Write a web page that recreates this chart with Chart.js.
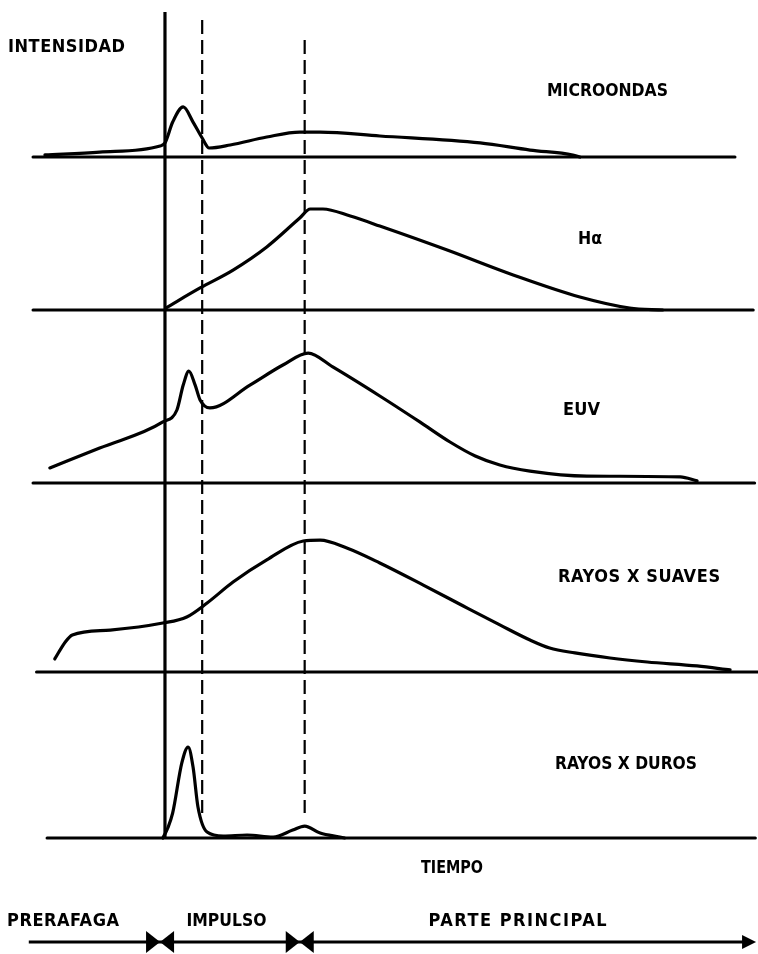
<!DOCTYPE html>
<html>
<head>
<meta charset="utf-8">
<script src="https://cdn.jsdelivr.net/npm/chart.js@4.4.1/dist/chart.umd.min.js"></script>
<style>
html,body{margin:0;padding:0;background:#fff;}
#wrap{position:relative;width:758px;height:954px;}
</style>
</head>
<body>
<div id="wrap"><canvas id="c"></canvas></div>
<script>
// ---- DATA (time in arbitrary units 0-100, intensity relative 0-100 within each panel) ----
const panelNames = ['MICROONDAS', 'Hα', 'EUV', 'RAYOS X SUAVES', 'RAYOS X DUROS'];

const microTime = [1.7, 9.5, 18.1, 18.8, 19.9, 21.4, 22.8, 24.1, 25.1, 28.1, 33.3, 38.0, 40.9, 49.4, 63.7, 70.8, 76.9, 77.9];
const microInt  = [1.4, 3.4, 7.6, 9.7, 24.1, 34.5, 24.1, 13.1, 6.2, 8.3, 13.8, 17.2, 17.2, 14.5, 9.7, 4.8, 1.4, 0];

const haTime = [18.9, 23.8, 28.5, 33.3, 38.0, 39.5, 41.3, 45.2, 49.4, 59.0, 68.4, 77.9, 85.0, 89.7];
const haInt  = [1.3, 14.4, 26.1, 41.2, 60.1, 66.0, 66.0, 61.4, 54.9, 39.2, 22.9, 8.5, 1.3, 0];

const euvTime = [2.4, 9.5, 18.5, 20.5, 21.4, 22.2, 23.1, 23.8, 25.2, 30.9, 35.6, 39.2, 42.7, 49.4, 55.1, 59.4, 63.0, 66.5, 70.8, 78.9, 92.2, 94.6];
const euvInt  = [8.7, 20.2, 35.3, 42.2, 56.6, 64.7, 56.6, 48.0, 43.4, 56.6, 68.2, 75.1, 67.1, 50.3, 35.3, 23.7, 15.6, 10.4, 6.9, 4.0, 3.5, 1.2];

const softTime = [3.1, 4.6, 5.6, 11.0, 18.5, 21.9, 24.8, 28.5, 33.3, 38.5, 40.9, 44.7, 49.4, 55.6, 61.3, 66.5, 70.8, 73.6, 77.2, 82.2, 87.5, 94.6, 99.3];
const softInt  = [6.9, 15.9, 19.6, 22.2, 25.9, 29.1, 36.5, 47.6, 59.3, 69.3, 69.8, 65.6, 57.7, 46.0, 34.9, 24.9, 16.9, 12.7, 10.1, 7.4, 5.3, 3.2, 1.1];

const hardTime = [18.5, 19.2, 19.9, 21.2, 22.1, 22.8, 23.5, 24.8, 27.1, 30.5, 34.2, 37.0, 38.7, 40.9, 43.7, 44.4];
const hardInt  = [0, 6.0, 15.1, 45.2, 54.8, 42.8, 18.7, 3.6, 1.2, 1.8, 0.6, 4.8, 7.2, 3.0, 0.6, 0];

// event markers (time units)
const onsetTime = 18.8;                 // solid vertical line
const dashedTimes = [24.1, 38.7];       // dashed vertical lines
// phases along the time arrow
const phaseLabels = ['PRERAFAGA', 'IMPULSO', 'PARTE PRINCIPAL'];
const phaseBounds = [18.1, 38.0];
const axisTitleY = 'INTENSIDAD';
const axisTitleX = 'TIEMPO';

// ---- build ----
const toPts = (t, v) => t.map((x, i) => ({x: x, y: v[i]}));
const seriesDefs = [
  {id: 'yMicro', t: microTime, v: microInt},
  {id: 'yHa',    t: haTime,    v: haInt},
  {id: 'yEuv',   t: euvTime,   v: euvInt},
  {id: 'ySoft',  t: softTime,  v: softInt},
  {id: 'yHard',  t: hardTime,  v: hardInt}
];

const FONT = "bold 18px 'DejaVu Sans Condensed', 'DejaVu Sans', sans-serif";

const hiddenY = (w) => ({
  type: 'linear', position: 'left', stack: 'panels', stackWeight: w,
  min: 0, max: 100,
  ticks: {display: false},
  grid: {display: false, drawTicks: false},
  border: {display: false}
});

// draw text centred at (cx, cy) spanning width w: spread letters if too narrow, squeeze if too wide
function fitText(ctx, text, cx, cy, w) {
  ctx.save();
  ctx.letterSpacing = '0px';
  ctx.textAlign = 'left';
  const m = ctx.measureText(text).width;
  if (w >= m) {
    const n = [...text].length;
    const ls = (w - m) / Math.max(n - 1, 1);
    ctx.letterSpacing = ls.toFixed(2) + 'px';
    ctx.fillText(text, cx - w / 2, cy);
  } else {
    ctx.translate(cx - w / 2, cy);
    ctx.scale(w / m, 1);
    ctx.fillText(text, 0, 0);
  }
  ctx.restore();
}

const decor = {
  id: 'decor',
  afterDatasetsDraw(chart) {
    const ctx = chart.ctx;
    const xs = chart.scales.x;
    const area = chart.chartArea;
    ctx.save();
    ctx.strokeStyle = '#000';
    ctx.fillStyle = '#000';
    ctx.lineCap = 'round';
    // baselines
    const baseExt = {yMicro: [0, 100], yHa: [0, 102.6], yEuv: [0, 102.8], ySoft: [0.5, 103.2], yHard: [2.0, 102.9]};
    seriesDefs.forEach(s => {
      const sc = chart.scales[s.id];
      const y = sc.getPixelForValue(0);
      ctx.lineWidth = 3;
      ctx.beginPath();
      ctx.moveTo(xs.getPixelForValue(baseExt[s.id][0]), y);
      ctx.lineTo(xs.getPixelForValue(baseExt[s.id][1]), y);
      ctx.stroke();
    });
    const bottomY = chart.scales.yHard.getPixelForValue(0);
    // solid onset line
    ctx.lineWidth = 3.2;
    ctx.lineCap = 'butt';
    ctx.beginPath();
    const xo = xs.getPixelForValue(onsetTime);
    ctx.moveTo(xo, area.top);
    ctx.lineTo(xo, bottomY);
    ctx.stroke();
    // dashed lines
    ctx.lineWidth = 2.2;
    ctx.setLineDash([14, 6]);
    const dashTop = [area.top + 8, area.top + 28];
    dashedTimes.forEach((t, i) => {
      const xp = xs.getPixelForValue(t);
      ctx.beginPath();
      ctx.moveTo(xp, dashTop[i]);
      ctx.lineTo(xp, bottomY - 25);
      ctx.stroke();
    });
    ctx.setLineDash([]);

    // texts
    ctx.font = FONT;
    ctx.textBaseline = 'middle';
    fitText(ctx, axisTitleY, 66.5, 47, 117);
    const labelPos = [[607.5, 91, 121], [590, 239, 24], [581.5, 410, 37], [639, 577, 162], [626, 764, 142]];
    panelNames.forEach((n, i) => fitText(ctx, n, labelPos[i][0], labelPos[i][1], labelPos[i][2]));
    fitText(ctx, axisTitleX, 452, 868, 62);

    // phase arrow
    const ay = 942;
    const x0 = xs.getPixelForValue(-0.6);
    const x1 = xs.getPixelForValue(103);
    ctx.lineWidth = 3;
    ctx.beginPath();
    ctx.moveTo(x0, ay);
    ctx.lineTo(x1 - 10, ay);
    ctx.stroke();
    ctx.beginPath();
    ctx.moveTo(x1, ay);
    ctx.lineTo(x1 - 14, ay - 7);
    ctx.lineTo(x1 - 14, ay + 7);
    ctx.closePath();
    ctx.fill();
    phaseBounds.forEach(t => {
      const c = xs.getPixelForValue(t);
      ctx.beginPath();
      ctx.moveTo(c, ay);
      ctx.lineTo(c - 14, ay - 11);
      ctx.lineTo(c - 14, ay + 11);
      ctx.closePath();
      ctx.fill();
      ctx.beginPath();
      ctx.moveTo(c, ay);
      ctx.lineTo(c + 14, ay - 11);
      ctx.lineTo(c + 14, ay + 11);
      ctx.closePath();
      ctx.fill();
    });
    const phasePos = [[63, 112], [226.5, 80], [517.5, 178]];
    phaseLabels.forEach((p, i) => fitText(ctx, p, phasePos[i][0], 921, phasePos[i][1]));
    ctx.restore();
  }
};

new Chart(document.getElementById('c'), {
  type: 'line',
  data: {
    datasets: seriesDefs.map(s => ({
      label: s.id,
      yAxisID: s.id,
      data: toPts(s.t, s.v),
      borderColor: '#000',
      borderWidth: 3.2,
      pointRadius: 0,
      cubicInterpolationMode: 'monotone',
      borderCapStyle: 'round',
      borderJoinStyle: 'round',
      fill: false,
      clip: false
    }))
  },
  options: {
    responsive: true,
    maintainAspectRatio: false,
    animation: false,
    layout: {padding: {left: 33, right: 23, top: 12, bottom: 116}},
    plugins: {legend: {display: false}, tooltip: {enabled: false}},
    scales: {
      x: {type: 'linear', min: 0, max: 100, display: false},
      yHard: hiddenY(166),
      ySoft: hiddenY(189),
      yEuv: hiddenY(173),
      yHa: hiddenY(153),
      yMicro: hiddenY(145)
    }
  },
  plugins: [decor]
});
</script>
</body>
</html>
